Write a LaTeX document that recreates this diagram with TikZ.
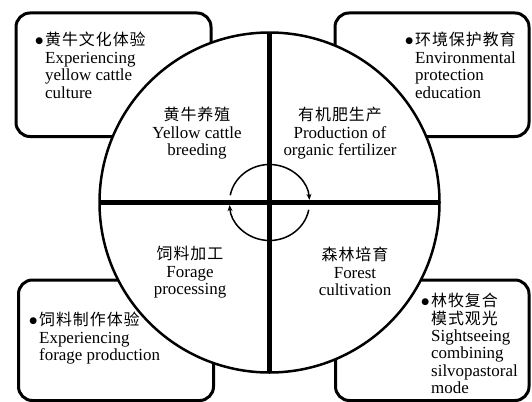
\documentclass[tikz,border=0pt]{standalone}
\usepackage{fontspec}
\setmainfont{Liberation Serif}
\newfontfamily\cjk[LetterSpace=6]{Noto Sans CJK SC}
\newfontfamily\symf{DejaVu Sans}
\usetikzlibrary{arrows.meta}
\newcommand\zh[1]{{\cjk\fontsize{16}{17.5}\selectfont #1}}
\newcommand\bul{\llap{\raisebox{2.5bp}{\symf\fontsize{9}{10}\selectfont ●}\hspace{2bp}}}
\begin{document}
\begin{tikzpicture}[x=1bp,y=1bp,
  box/.style={draw=black, line width=3bp, rounded corners=14bp, fill=white},
  wheel/.style={draw=black, line width=2.5bp, fill=white},
  axis/.style={draw=black, line width=5bp},
  txt/.style={inner sep=0pt, font=\fontsize{17}{17.5}\selectfont},
  cyc/.style={draw=black, line width=1.5bp, -{Stealth[length=6bp,width=5bp]}}]
\useasboundingbox (0,0) rectangle (532,401);
% outer boxes
\draw[box] (16,264.5) rectangle (211,388);
\draw[box] (335,264.5) rectangle (529,388);
\draw[box] (18.5,0.5) rectangle (213.5,121);
\draw[box] (335.5,0.5) rectangle (529,121);
% wheel
\coordinate (c) at (269.5,198.5);
\draw[wheel] (c) circle[radius=170];
\coordinate (top) at (269.5,368.5);
\coordinate (bot) at (269.5,28.5);
\coordinate (lft) at (99.5,198.5);
\coordinate (rgt) at (439.5,198.5);
\draw[axis] (top) -- (bot);
\draw[axis] (lft) -- (rgt);
% cycle arrows
\coordinate (a1) at ([shift={(169:40 and 38)}]c);
\coordinate (a2) at ([shift={(-11:40 and 38)}]c);
\draw[cyc] (a1) arc[start angle=169, end angle=4, x radius=40, y radius=38];
\draw[cyc] (a2) arc[start angle=-11, end angle=-176, x radius=40, y radius=38];
% quadrant texts
\node[txt, anchor=north, align=center] (q1) at (197,294) {\zh{黄牛养殖}\\Yellow cattle\\breeding};
\node[txt, anchor=north, align=center] (q2) at (340,294) {\zh{有机肥生产}\\Production of\\organic fertilizer};
\node[txt, anchor=north, align=center] (q3) at (190,155) {\zh{饲料加工}\\Forage\\processing};
\node[txt, anchor=north, align=center] (q4) at (355,154) {\zh{森林培育}\\Forest\\cultivation};
% box texts
\node[txt, anchor=north west, align=left] (b1) at (45,369) {\bul\zh{黄牛文化体验}\\Experiencing\\yellow cattle\\culture};
\node[txt, anchor=north west, align=left] (b2) at (415,369) {\bul\zh{环境保护教育}\\Environmental\\protection\\education};
\node[txt, anchor=north west, align=left] (b3) at (39,89) {\bul\zh{饲料制作体验}\\Experiencing\\forage production};
\node[txt, anchor=north west, align=left] (b4) at (431,108) {\bul\zh{林牧复合}\\\zh{模式观光}\\Sightseeing\\combining\\silvopastoral\\mode};
\end{tikzpicture}
\end{document}
